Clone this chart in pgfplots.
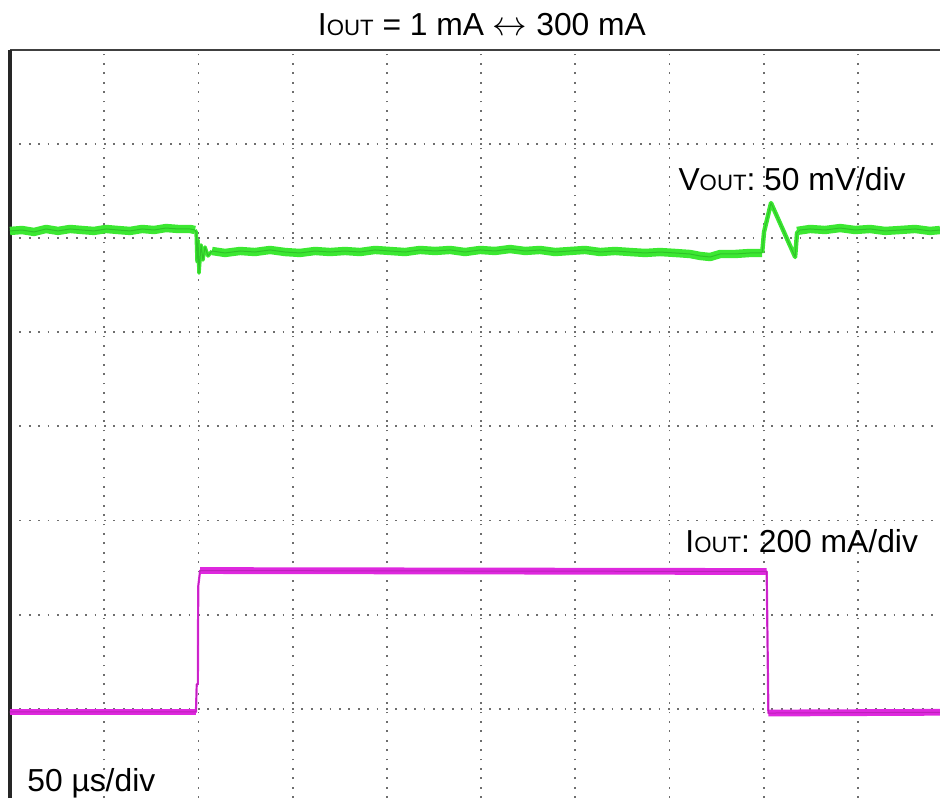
\documentclass[border=0pt]{standalone}
\usepackage{pgfplots}
\pgfplotsset{compat=1.18}
\usepackage{fontspec}
\setmainfont{Liberation Sans}
\definecolor{trgreen}{RGB}{60,232,50}
\definecolor{trgreendk}{RGB}{30,150,30}
\definecolor{trmag}{RGB}{222,40,222}
\definecolor{trmagdk}{RGB}{130,20,120}
\definecolor{gridc}{RGB}{110,110,110}
\newcommand\lbl{\fontsize{15.9}{18}\selectfont}
\newcommand\sub[1]{{\fontsize{11.1}{12}\selectfont #1}}
\begin{document}
\begin{tikzpicture}
\begin{axis}[
  at={(5pt,0pt)}, anchor=south west,
  scale only axis, width=465pt, height=374pt,
  xmin=0, xmax=493.6, ymin=0.051, ymax=8,
  xtick={50,100,...,450}, ytick={1,...,7},
  xticklabels={}, yticklabels={},
  major tick length=0pt,
  grid=major,
  major grid style={draw=gridc, line width=0.9pt, dash pattern=on 0.9pt off 3.8pt},
  axis line style={draw=none},
  clip=false,
]
% frame (top and left only, the rest is cut off)
\draw[line width=1.1pt, draw=black!75] (rel axis cs:0,1) -- (rel axis cs:1,1);
\draw[line width=1.6pt, draw=black!85] (rel axis cs:0,0) -- (rel axis cs:0,1);

% ---------- V_OUT (green) ----------
\addplot[trgreen, line width=4.2pt, line join=round] coordinates {
 (0,6.077) (6.37,6.087) (12.74,6.066) (19.11,6.098) (25.48,6.077) (31.85,6.098)
 (38.22,6.087) (44.59,6.077) (50.96,6.098) (57.33,6.087) (63.70,6.077) (70.07,6.098)
 (76.44,6.087) (82.80,6.108) (89.17,6.098) (95.54,6.098) (98.2,6.087)};
\addplot[trgreen, line width=4.2pt, line join=round] coordinates {
 (107.2,5.864) (114.1,5.843) (122.1,5.864) (130.0,5.853) (138.0,5.875) (146.0,5.853)
 (153.9,5.843) (161.9,5.864) (169.9,5.853) (177.8,5.864) (185.8,5.853) (193.7,5.875)
 (201.7,5.864) (209.7,5.853) (217.6,5.875) (225.6,5.864) (233.6,5.875) (241.5,5.853)
 (249.5,5.875) (257.4,5.864) (265.4,5.885) (273.4,5.864) (281.3,5.875) (289.3,5.853)
 (297.2,5.864) (305.2,5.875) (313.2,5.853) (321.1,5.864) (329.1,5.853) (337.1,5.843)
 (345.0,5.853) (353.0,5.843) (360.9,5.832) (366.3,5.811) (371.6,5.800) (376.9,5.832)
 (384.8,5.832) (392.8,5.843) (399.2,5.843)};
\addplot[trgreen, line width=4.2pt, line join=round] coordinates {
 (417.7,6.077) (424.6,6.098) (432.6,6.087) (440.6,6.108) (448.5,6.087) (456.5,6.098)
 (464.4,6.077) (472.4,6.087) (480.4,6.098) (488.3,6.077) (493.6,6.087)};
\addplot[trgreen, line width=1.8pt, line join=round] coordinates {
 (98.2,6.087) (98.8,6.066) (99.3,5.747) (99.8,5.981) (100.3,5.630) (101.4,5.928)
 (102.4,5.768) (103.5,5.906) (105.1,5.811) (107.2,5.864)};
\addplot[trgreen, line width=2.2pt, line join=round] coordinates {
 (399.2,5.843) (400.2,6.066) (403.9,6.374) (416.7,5.800) (417.7,6.055) (419.3,6.087)};
\addplot[trgreendk, opacity=0.45, line width=0.5pt, line join=round] coordinates {
 (0,6.077) (6.37,6.087) (12.74,6.066) (19.11,6.098) (25.48,6.077) (31.85,6.098)
 (38.22,6.087) (44.59,6.077) (50.96,6.098) (57.33,6.087) (63.70,6.077) (70.07,6.098)
 (76.44,6.087) (82.80,6.108) (89.17,6.098) (95.54,6.098) (98.2,6.087)
 (98.8,6.066) (99.3,5.747) (99.8,5.981) (100.3,5.630) (101.4,5.928)
 (102.4,5.768) (103.5,5.906) (105.1,5.811) (107.2,5.864)
 (114.1,5.843) (122.1,5.864) (130.0,5.853) (138.0,5.875) (146.0,5.853)
 (153.9,5.843) (161.9,5.864) (169.9,5.853) (177.8,5.864) (185.8,5.853) (193.7,5.875)
 (201.7,5.864) (209.7,5.853) (217.6,5.875) (225.6,5.864) (233.6,5.875) (241.5,5.853)
 (249.5,5.875) (257.4,5.864) (265.4,5.885) (273.4,5.864) (281.3,5.875) (289.3,5.853)
 (297.2,5.864) (305.2,5.875) (313.2,5.853) (321.1,5.864) (329.1,5.853) (337.1,5.843)
 (345.0,5.853) (353.0,5.843) (360.9,5.832) (366.3,5.811) (371.6,5.800) (376.9,5.832)
 (384.8,5.832) (392.8,5.843) (399.2,5.843)
 (400.2,6.066) (403.9,6.374) (416.7,5.800) (417.7,6.055) (419.3,6.087)
 (424.6,6.098) (432.6,6.087) (440.6,6.108) (448.5,6.087) (456.5,6.098)
 (464.4,6.077) (472.4,6.087) (480.4,6.098) (488.3,6.077) (493.6,6.087)};

% ---------- I_OUT (magenta) ----------
\addplot[trmag, line width=3.4pt] coordinates {(0,0.965) (98.7,0.965)};
\addplot[trmag, line width=3.4pt] coordinates {(100.9,2.468) (401.6,2.458)};
\addplot[trmag, line width=3.4pt] coordinates {(402.5,0.954) (493.6,0.962)};
\addplot[trmag, line width=1.1pt, line join=round] coordinates {
 (0,0.965) (98.7,0.965) (99.1,1.26) (99.7,1.26) (99.9,2.30) (100.9,2.468)
 (401.6,2.458) (402.0,1.80) (402.5,0.954) (493.6,0.962)};
\addplot[trmagdk, opacity=0.35, line width=0.5pt] coordinates {
 (0,0.965) (98.7,0.965) (99.1,1.26) (99.7,1.26) (99.9,2.30) (100.9,2.468)
 (401.6,2.458) (402.0,1.80) (402.5,0.954) (493.6,0.962)};

% ---------- labels ----------
\node[anchor=base, inner sep=0pt] at (axis cs:250.5,8.159)
  {\lbl I\sub{OUT} = 1 mA $\leftrightarrow$ 300 mA};
\node[anchor=base west, inner sep=0pt] at (axis cs:354.6,6.512)
  {\lbl V\sub{OUT}: 50 mV/div};
\node[anchor=base west, inner sep=0pt] at (axis cs:358.3,2.665)
  {\lbl I\sub{OUT}: 200 mA/div};
\node[anchor=base west, inner sep=0pt] at (axis cs:9.0,0.115)
  {\lbl 50 µs/div};
\end{axis}
\pgfresetboundingbox
\useasboundingbox (0,0) rectangle (470pt,399pt);
\end{tikzpicture}
\end{document}
